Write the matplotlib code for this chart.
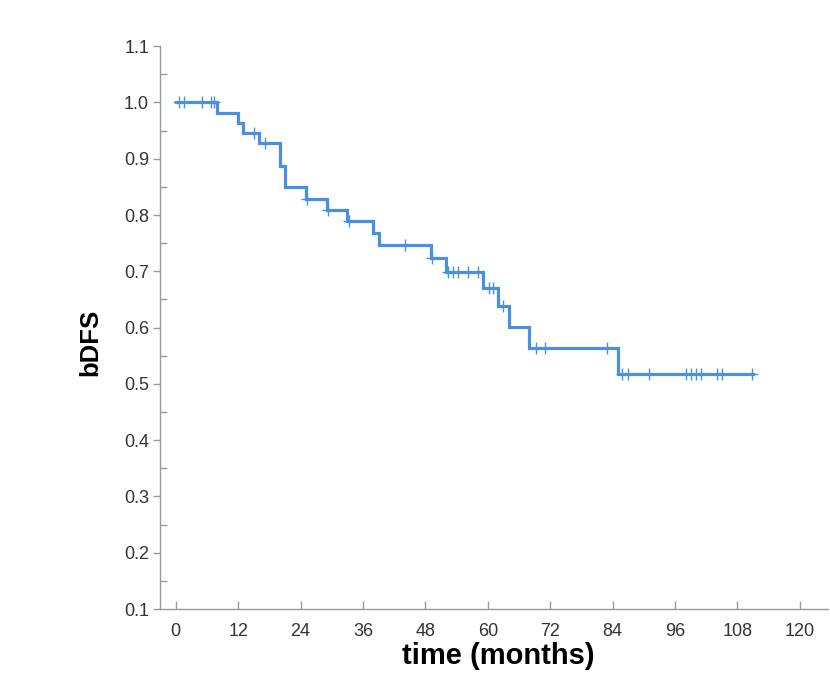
import numpy as np
import matplotlib
matplotlib.use("Agg")
import matplotlib.pyplot as plt
from matplotlib.ticker import MultipleLocator

plt.rcParams['font.family'] = ['Liberation Sans', 'DejaVu Sans']

# Kaplan-Meier step data (months, survival after the step)
event_times = [0, 8, 12, 13, 16, 20, 21, 25, 29, 33, 38, 39, 49, 52, 59, 62, 64, 68, 85]
surv_values = [1.0, 0.981, 0.963, 0.945, 0.928, 0.888, 0.849, 0.829, 0.809, 0.789, 0.768,
               0.747, 0.723, 0.699, 0.670, 0.638, 0.601, 0.564, 0.517]
end_time = 111
censor_times = [0.6, 1.5, 5.0, 6.7, 7.3, 15.0, 17.1, 25.3, 29.3, 33.3, 44, 49.2,
                52.4, 53.3, 54.3, 56.2, 58.1, 60.2, 61.1, 62.9, 69.3, 71.0, 83.0,
                85.9, 86.9, 91.0, 98.1, 99.0, 100.0, 101.0, 104.0, 105.0, 110.9]
x_ticks = [0, 12, 24, 36, 48, 60, 72, 84, 96, 108, 120]
y_ticks = [0.1, 0.2, 0.3, 0.4, 0.5, 0.6, 0.7, 0.8, 0.9, 1.0, 1.1]

line_color = '#4A8FE0'
axis_color = '#9a9a9a'

fig = plt.figure(figsize=(8.3, 7.0), dpi=100)
ax = fig.add_axes([0.193, 0.13, 0.805, 0.804])

xs = list(event_times) + [end_time]
ys = list(surv_values) + [surv_values[-1]]
ax.step(xs, ys, where='post', color=line_color, lw=2.3, solid_joinstyle='miter')

et = np.array(event_times)
sv = np.array(surv_values)
cy = [sv[np.searchsorted(et, t, side='right') - 1] for t in censor_times]
ax.plot(censor_times, cy, linestyle='none', marker='+', ms=8, mew=1.0, color=line_color)

ax.set_xlim(-3.0, 125.5)
ax.set_ylim(0.1, 1.1)
ax.set_xticks(x_ticks)
ax.set_yticks(y_ticks)
ax.set_yticklabels([f"{v:.1f}" for v in y_ticks])
ax.yaxis.set_minor_locator(MultipleLocator(0.05))

for s in ['top', 'right']:
    ax.spines[s].set_visible(False)
for s in ['left', 'bottom']:
    ax.spines[s].set_color(axis_color)
    ax.spines[s].set_linewidth(1.0)

ax.tick_params(axis='x', direction='in', length=6, width=1, color=axis_color,
               labelsize=13, labelcolor='#333333', pad=10)
ax.tick_params(axis='y', which='major', direction='out', length=5, width=1,
               color=axis_color, labelsize=13, labelcolor='#333333', pad=3)
ax.tick_params(axis='y', which='minor', direction='in', length=5, width=1,
               color=axis_color)

ax.set_xlabel('time (months)', fontsize=21, fontweight='bold')
ax.set_ylabel('bDFS', fontsize=18.5, fontweight='bold')
ax.xaxis.set_label_coords(0.506, -0.058)
ax.yaxis.set_label_coords(-0.087, 0.474)

fig.savefig('out.png', dpi=100)
